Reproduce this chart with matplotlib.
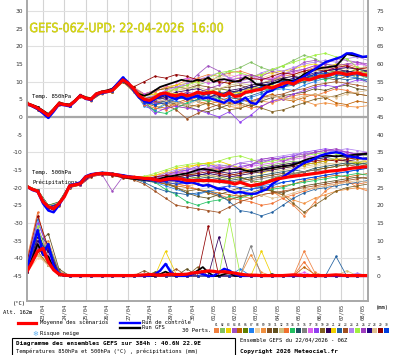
import numpy as np
import matplotlib
matplotlib.use("Agg")
import matplotlib.pyplot as plt
from matplotlib.lines import Line2D
from matplotlib.patches import Rectangle, PathPatch
from matplotlib.textpath import TextPath
from matplotlib.font_manager import FontProperties
from matplotlib.transforms import Affine2D

W, H = 395, 355

# ---- data (hours from 22/04 06Z) ----
hours6 = np.arange(0, 385, 6)
hours12 = np.arange(0, 385, 12)
day_labels = ["23/04", "24/04", "25/04", "26/04", "27/04", "28/04", "29/04", "30/04",
              "01/05", "02/05", "03/05", "04/05", "05/05", "06/05", "07/05", "08/05"]
day_hours = [18 + 24 * k for k in range(len(day_labels))]

mean850 = [3.8, 3.2, 2.5, 1.5, 0.4, 2.0, 3.8, 3.5, 3.3, 4.5,
           6.0, 5.3, 5.0, 6.5, 7.0, 7.2, 7.5, 9.0, 10.5, 9.5,
           8.0, 6.0, 5.0, 4.7, 5.5, 6.5, 6.8, 6.2, 6.0, 6.5,
           6.0, 6.3, 7.0, 6.6, 6.8, 7.0, 6.5, 6.0, 6.8, 5.8,
           6.0, 7.0, 7.2, 7.6, 7.8, 8.5, 8.2, 8.8, 9.5, 9.8,
           9.3, 10.2, 10.8, 10.5, 11.0, 11.5, 11.6, 12.0, 12.5, 12.4,
           12.0, 12.3, 12.5, 12.0, 11.8]
ctrl850 = [3.6, 3.0, 2.2, 1.0, -0.3, 1.5, 3.5, 3.3, 3.0, 4.3,
           6.2, 5.1, 4.8, 6.4, 6.8, 7.0, 7.8, 9.5, 11.2, 9.8,
           7.5, 5.5, 4.5, 4.0, 5.0, 6.0, 6.5, 5.5, 5.0, 5.8,
           5.0, 5.5, 6.0, 5.2, 5.5, 5.0, 4.5, 4.0, 5.0, 4.0,
           4.5, 5.5, 4.0, 3.7, 5.5, 7.0, 7.5, 8.5, 8.5, 9.5,
           10.0, 10.5, 11.5, 12.5, 13.5, 14.5, 15.5, 16.0, 16.5, 17.0,
           18.0, 18.0, 17.5, 17.0, 17.2]
gfs850 = [3.9, 3.4, 2.8, 1.8, 0.8, 2.2, 4.0, 3.7, 3.5, 4.7,
          6.2, 5.5, 5.2, 6.7, 7.2, 7.5, 8.0, 9.3, 10.3, 9.2,
          7.8, 6.5, 6.0, 6.5, 7.5, 8.5, 9.0, 9.5, 10.0, 10.5,
          10.2, 10.0, 10.5, 10.2, 11.2, 9.9, 10.5, 10.7, 10.3, 10.0,
          10.2, 11.3, 10.5, 9.3, 9.0, 8.7, 9.5, 9.9, 10.7, 10.5,
          10.2, 11.0, 12.1, 12.8, 13.5, 13.8, 14.0, 14.2, 14.4, 16.0,
          17.8, 17.5, 17.2, 17.0, 17.0]

mean500 = [-19.7, -20.5, -21.0, -24.0, -25.4, -26.0, -24.5, -22.6, -19.5, -19.2,
           -18.9, -17.0, -16.5, -16.1, -16.0, -16.0, -16.2, -16.4, -16.8, -17.0,
           -17.1, -17.2, -17.4, -17.5, -17.8, -18.0, -17.7, -17.5, -17.5, -17.6,
           -18.0, -18.0, -18.0, -18.0, -18.0, -18.1, -18.2, -18.3, -18.5, -19.0,
           -18.5, -19.0, -19.5, -19.2, -19.0, -18.5, -18.0, -17.5, -17.3, -17.0,
           -16.8, -16.6, -16.4, -16.2, -16.0, -15.8, -15.5, -15.3, -15.2, -15.0,
           -14.8, -14.5, -14.4, -14.2, -14.1]
ctrl500 = [-19.8, -20.7, -21.2, -24.5, -26.5, -27.0, -25.0, -22.5, -19.3, -19.0,
           -18.5, -16.8, -16.2, -16.0, -15.8, -15.9, -16.1, -16.3, -16.5, -16.8,
           -17.0, -17.3, -17.6, -17.8, -18.0, -18.3, -18.0, -17.8, -18.0, -18.4,
           -18.8, -18.5, -19.0, -19.5, -19.2, -19.8, -20.5, -20.2, -21.0, -21.5,
           -21.2, -21.6, -21.8, -21.7, -21.0, -20.5, -19.0, -18.0, -17.0, -16.0,
           -15.0, -14.0, -13.0, -12.5, -11.8, -11.0, -10.5, -10.2, -10.0, -10.3,
           -11.0, -11.3, -11.5, -11.8, -11.8]
gfs500 = [-19.6, -20.6, -21.0, -23.8, -25.5, -26.3, -24.5, -22.4, -19.4, -19.0,
          -18.6, -16.9, -16.3, -16.0, -16.0, -16.1, -16.3, -16.6, -17.0, -17.3,
          -17.5, -17.7, -17.8, -18.0, -17.9, -17.5, -17.0, -16.8, -16.5, -16.2,
          -16.0, -15.5, -15.0, -14.7, -14.9, -15.2, -15.5, -15.0, -14.7, -14.8,
          -14.7, -15.2, -15.5, -15.3, -15.0, -14.7, -14.5, -14.2, -14.0, -13.8,
          -13.5, -13.0, -12.3, -11.8, -11.5, -11.2, -11.0, -11.0, -11.2, -11.0,
          -11.0, -10.8, -10.6, -10.5, -10.4]

mean_pr = [1.2, 4.0, 7.0, 7.8, 4.0, 1.7, 0.5, 0.2, 0.1, 0.1,
           0.1, 0.1, 0.1, 0.1, 0.1, 0.1, 0.1, 0.1, 0.1, 0.1,
           0.1, 0.2, 0.3, 0.4, 0.3, 0.2, 0.3, 0.5, 0.4, 0.4,
           0.5, 0.8, 1.0, 1.2, 1.4, 1.3, 1.1, 1.2, 1.0, 0.8,
           0.5, 0.3, 0.2, 0.2, 0.1, 0.1, 0.1, 0.1, 0.1, 0.2,
           0.3, 0.2, 0.1, 0.1, 0.1, 0.1, 0.1, 0.2, 0.3, 0.2,
           0.1, 0.1, 0.1, 0.1, 0.1]
ctrl_pr = [2.0, 8.0, 13.0, 6.0, 9.0, 3.0, 0.5, 0.1, 0, 0,
           0, 0, 0, 0, 0, 0, 0, 0, 0, 0,
           0, 0, 0, 0, 0.5, 1.5, 3.4, 1.0, 0, 0,
           0, 0.5, 1.0, 0.5, 0, 0, 1.0, 2.0, 1.5, 0.5,
           0, 0, 0, 0, 0, 0, 0, 0, 0, 0,
           0, 0, 0, 0, 0, 0, 0, 0, 0, 0,
           0, 0, 0, 0, 0]
gfs_pr = [1.5, 5.0, 9.0, 6.0, 5.5, 2.0, 0.3, 0, 0, 0,
          0, 0, 0, 0, 0, 0, 0, 0, 0, 0,
          0, 0, 0, 0, 0, 0.5, 1.2, 0.5, 0, 0,
          0, 0.5, 1.5, 2.5, 1.0, 0, 0, 0.5, 0.8, 0,
          0, 0, 0, 0, 0, 0, 0.5, 0, 0, 0,
          0, 0, 0, 0, 0, 0, 0, 0, 0, 0,
          0, 0, 0, 0, 0]

# 30 perturbations, every 12 h
pert_colors = ["#f08040", "#80c060", "#f0d000", "#a050c0", "#c06000", "#608000",
               "#2080f0", "#f0d0a0", "#f09040", "#805020", "#605020", "#d0c080",
               "#f07030", "#20c060", "#205060", "#808080", "#e060f0", "#9040f0",
               "#806020", "#300060", "#f0d000", "#2060a0", "#a05020", "#b080f0",
               "#a0f040", "#a040c0", "#200080", "#e0c090", "#900000", "#0040e0"]

pert850 = [
    [4.0, 2.8, 0.8, 4.2, 3.5, 6.3, 5.2, 7.4, 7.8, 10.8, 8.5, 6.0, 7.0, 8.5, 9.0, 10.5, 11.0, 12.0, 11.5, 12.5, 13.0, 12.0, 11.0, 10.5, 11.5, 12.0, 13.0, 14.0, 13.5, 14.5, 15.0, 14.0, 13.5],
    [3.6, 2.2, 0.2, 3.5, 3.0, 5.8, 4.8, 6.8, 7.2, 10.2, 7.0, 3.5, 2.0, 4.0, 5.5, 7.0, 9.0, 10.0, 11.5, 13.0, 14.0, 15.5, 14.0, 13.0, 14.5, 16.0, 17.5, 16.5, 15.0, 14.0, 12.5, 11.0, 10.5],
    [3.9, 2.6, 0.6, 3.9, 3.4, 6.1, 5.1, 7.1, 7.6, 10.4, 8.2, 6.5, 7.5, 8.0, 9.0, 9.5, 10.0, 11.0, 10.0, 9.5, 10.5, 11.5, 12.0, 12.5, 13.0, 13.5, 14.5, 15.0, 14.0, 15.0, 14.5, 13.0, 12.5],
    [3.7, 2.4, 0.3, 3.6, 3.2, 5.9, 4.9, 6.9, 7.3, 10.3, 7.5, 4.5, 5.0, 6.0, 8.5, 9.0, 12.0, 14.5, 13.0, 11.0, 9.5, 10.0, 11.5, 13.0, 12.0, 13.5, 15.5, 16.0, 15.0, 16.5, 16.0, 15.5, 14.5],
    [3.5, 2.0, 0.5, 3.4, 3.6, 6.2, 5.4, 7.2, 7.0, 10.0, 7.8, 4.0, 3.0, 2.5, 4.0, 5.0, 4.5, 3.5, 4.5, 5.5, 5.0, 4.0, 5.5, 6.5, 5.0, 4.5, 5.5, 6.5, 5.5, 4.0, 3.5, 4.5, 4.0],
    [4.1, 2.7, 0.9, 4.0, 3.1, 5.7, 4.7, 6.7, 7.9, 10.6, 8.3, 5.5, 5.0, 6.5, 6.0, 5.5, 6.5, 7.0, 8.0, 7.5, 6.5, 7.5, 8.0, 8.5, 9.0, 10.0, 11.0, 11.5, 12.5, 13.0, 12.5, 13.5, 13.0],
    [3.8, 2.3, 0.1, 3.7, 3.3, 6.0, 5.0, 7.1, 7.7, 11.2, 8.0, 3.0, 2.0, 3.5, 4.5, 3.5, 5.0, 6.0, 5.5, 4.5, 4.0, 5.5, 6.5, 7.5, 8.0, 7.5, 9.0, 10.0, 11.0, 12.0, 11.5, 11.0, 10.5],
    [3.9, 2.5, 0.4, 3.8, 3.5, 6.4, 5.3, 7.3, 7.5, 10.5, 8.7, 6.5, 6.0, 7.5, 8.0, 8.5, 9.5, 10.5, 11.0, 12.0, 11.0, 10.5, 11.0, 12.0, 12.5, 13.0, 12.5, 13.5, 14.0, 14.5, 13.5, 14.0, 13.0],
    [3.7, 2.4, 0.6, 3.9, 3.2, 5.8, 4.6, 6.6, 7.0, 9.8, 7.2, 4.5, 3.5, 4.0, 3.0, 2.5, 3.5, 4.5, 4.0, 3.0, 2.5, 3.5, 4.5, 4.0, 5.0, 5.5, 4.5, 3.5, 4.0, 3.5, 3.0, 2.8, 3.2],
    [3.6, 2.1, 0.2, 3.6, 3.0, 6.0, 5.2, 7.0, 7.6, 10.1, 8.2, 6.5, 7.5, 8.0, 8.5, 8.0, 9.0, 8.5, 8.0, 8.5, 9.0, 8.0, 9.5, 10.5, 11.0, 10.0, 11.5, 12.0, 11.0, 10.5, 11.5, 12.0, 11.5],
    [4.0, 2.9, 0.7, 4.1, 3.4, 6.1, 5.1, 6.9, 7.3, 10.2, 7.6, 5.0, 4.0, 4.5, 3.5, 3.0, 2.0, 1.5, 2.5, 3.5, 4.0, 3.0, 4.5, 5.5, 6.0, 6.5, 7.0, 8.0, 7.5, 8.5, 9.0, 8.0, 7.5],
    [3.8, 2.6, 0.5, 3.8, 3.3, 6.1, 5.0, 7.0, 7.5, 10.6, 8.1, 6.0, 6.5, 7.0, 7.5, 8.0, 8.5, 7.5, 8.0, 9.0, 9.5, 9.0, 9.5, 10.5, 11.0, 11.5, 12.5, 13.0, 13.5, 13.0, 14.0, 13.5, 14.5],
    [3.7, 2.3, 0.3, 3.5, 3.1, 5.9, 4.8, 6.8, 7.2, 10.3, 7.4, 3.5, 2.5, 2.0, 3.5, 4.5, 5.5, 6.5, 5.5, 4.0, 3.5, 2.5, 3.0, 4.5, 5.5, 6.0, 6.5, 6.0, 7.0, 8.0, 7.5, 6.5, 6.0],
    [3.9, 2.7, 0.6, 3.9, 3.6, 6.2, 5.3, 7.2, 7.8, 10.7, 8.4, 4.5, 1.5, 1.0, 2.5, 4.0, 5.0, 4.5, 5.5, 6.5, 6.0, 7.0, 8.0, 7.5, 8.5, 9.5, 10.0, 11.0, 10.5, 11.5, 12.5, 12.0, 11.0],
    [3.8, 2.5, 0.4, 3.8, 3.3, 6.0, 5.0, 7.0, 7.4, 10.4, 7.8, 5.5, 5.5, 6.0, 5.5, 5.0, 6.0, 6.5, 7.0, 6.5, 7.5, 8.5, 9.0, 9.5, 10.5, 10.0, 11.0, 11.5, 12.0, 12.5, 13.0, 12.5, 12.0],
    [3.7, 2.4, 0.5, 3.7, 3.4, 6.0, 5.1, 7.1, 7.6, 10.5, 8.0, 5.0, 4.5, 5.5, 6.5, 6.0, 5.5, 5.0, 6.0, 7.0, 7.5, 8.0, 8.5, 8.0, 9.5, 10.0, 10.5, 11.5, 12.0, 13.0, 12.5, 12.0, 12.5],
    [3.9, 2.6, 0.4, 3.9, 3.2, 6.0, 4.9, 6.9, 7.4, 10.4, 8.2, 6.5, 7.5, 9.0, 10.0, 11.0, 10.5, 9.5, 10.0, 11.0, 12.0, 11.5, 10.5, 11.0, 12.0, 12.5, 13.5, 14.5, 14.0, 13.5, 14.5, 15.0, 14.5],
    [3.8, 2.5, 0.3, 3.6, 3.3, 5.9, 5.0, 7.0, 7.3, 10.2, 7.6, 4.0, 1.0, 2.5, 3.0, 2.5, 2.0, 1.0, 0.0, 1.5, -1.5, 0.5, 3.0, 4.5, 5.0, 6.5, 7.5, 8.5, 9.0, 8.5, 9.5, 10.5, 10.0],
    [3.6, 2.2, 0.3, 3.6, 3.0, 5.8, 4.7, 6.7, 7.1, 10.0, 7.3, 5.0, 6.0, 5.0, 4.0, 3.5, 3.0, 4.0, 3.0, 2.0, 2.5, 3.5, 2.5, 1.5, 2.0, 3.0, 4.0, 5.0, 5.5, 6.0, 7.0, 6.5, 6.0],
    [4.0, 2.8, 0.6, 4.0, 3.5, 6.2, 5.2, 7.2, 7.7, 10.7, 8.3, 5.5, 5.0, 6.0, 7.0, 7.5, 8.0, 7.0, 6.0, 7.5, 8.0, 9.0, 9.5, 10.0, 11.0, 11.5, 11.0, 12.0, 13.0, 13.5, 13.0, 12.5, 13.0],
    [3.8, 2.5, 0.5, 3.8, 3.4, 6.1, 5.1, 7.1, 7.5, 10.5, 8.0, 6.0, 6.5, 7.0, 6.5, 6.0, 7.0, 7.5, 7.0, 6.5, 7.0, 8.0, 8.5, 9.0, 9.0, 9.5, 10.5, 11.0, 11.5, 12.0, 11.5, 12.0, 12.5],
    [3.7, 2.4, 0.4, 3.7, 3.2, 5.9, 4.9, 6.9, 7.4, 10.3, 7.7, 4.5, 3.5, 4.5, 5.5, 5.0, 4.5, 5.5, 6.5, 5.5, 5.0, 6.0, 7.0, 8.0, 8.5, 9.0, 10.0, 10.5, 11.5, 11.0, 10.5, 11.0, 10.0],
    [3.9, 2.6, 0.5, 3.9, 3.4, 6.0, 5.0, 7.0, 7.5, 10.4, 7.9, 5.0, 4.5, 3.5, 2.0, -0.5, 1.0, 2.5, 3.5, 4.0, 5.0, 4.5, 5.5, 6.0, 6.5, 7.5, 8.0, 9.0, 9.5, 10.0, 9.5, 9.0, 8.5],
    [3.8, 2.5, 0.4, 3.8, 3.3, 6.0, 5.0, 7.0, 7.5, 10.5, 8.2, 5.5, 6.0, 7.5, 8.5, 9.5, 10.5, 11.5, 12.5, 11.0, 10.0, 11.0, 12.5, 13.5, 13.0, 14.0, 15.0, 15.5, 16.0, 15.5, 16.5, 17.0, 16.0],
    [3.9, 2.6, 0.5, 3.9, 3.4, 6.1, 5.1, 7.1, 7.6, 10.6, 8.1, 5.0, 5.5, 7.0, 8.0, 9.0, 10.0, 11.0, 12.5, 13.0, 12.5, 11.5, 12.0, 13.5, 14.5, 15.5, 16.5, 17.5, 18.0, 17.0, 16.5, 14.0, 12.0],
    [3.7, 2.4, 0.3, 3.7, 3.2, 5.9, 4.9, 6.9, 7.4, 10.3, 7.5, 4.5, 4.0, 5.0, 6.0, 7.0, 6.5, 8.0, 9.0, 10.5, 11.0, 12.0, 11.0, 10.5, 12.0, 13.0, 13.5, 14.5, 15.0, 14.5, 15.0, 15.5, 15.0],
    [3.8, 2.5, 0.4, 3.8, 3.3, 6.0, 5.0, 7.0, 7.5, 10.4, 7.8, 5.0, 5.0, 5.5, 6.0, 6.5, 6.0, 5.5, 6.5, 7.0, 7.5, 8.5, 9.0, 9.5, 10.0, 11.0, 11.5, 12.5, 13.0, 13.5, 14.0, 13.5, 13.0],
    [3.9, 2.6, 0.6, 3.9, 3.5, 6.1, 5.2, 7.2, 7.6, 10.6, 8.1, 5.5, 5.0, 4.5, 4.0, 3.5, 4.5, 5.5, 4.5, 3.5, 3.0, 4.0, 5.0, 6.0, 5.5, 5.0, 6.0, 6.5, 6.0, 5.5, 6.5, 7.0, 7.5],
    [3.8, 2.5, 0.5, 3.8, 3.4, 6.0, 5.1, 7.1, 7.5, 10.5, 8.5, 10.0, 11.5, 11.0, 12.0, 11.5, 10.5, 11.0, 10.0, 9.5, 10.5, 11.0, 10.5, 11.5, 12.5, 12.0, 13.0, 13.5, 13.0, 14.0, 14.5, 13.5, 14.0],
    [3.7, 2.4, 0.3, 3.7, 3.2, 5.9, 4.9, 6.9, 7.3, 10.3, 7.6, 4.0, 3.5, 4.0, 5.0, 6.0, 5.5, 6.5, 7.0, 6.0, 6.5, 7.5, 8.5, 9.5, 10.0, 10.5, 11.0, 12.0, 12.5, 12.0, 11.5, 12.0, 11.5],
]

pert500 = [
    [-19.5, -20.8, -25.0, -24.0, -19.2, -18.5, -16.2, -15.8, -16.0, -16.5, -16.8, -17.0, -16.5, -16.0, -15.5, -16.0, -15.0, -14.5, -15.0, -16.0, -17.0, -18.0, -19.5, -21.0, -23.0, -25.0, -28.0, -24.0, -21.0, -19.0, -18.0, -20.0, -21.0],
    [-19.8, -21.2, -25.8, -24.8, -19.8, -19.0, -16.6, -16.2, -16.4, -17.0, -17.5, -18.0, -18.5, -18.0, -17.0, -16.5, -15.5, -15.0, -14.0, -13.5, -14.5, -15.0, -14.0, -13.5, -13.0, -12.5, -13.0, -12.0, -11.5, -12.0, -12.5, -13.0, -12.0],
    [-19.6, -20.9, -25.3, -24.3, -19.4, -18.8, -16.4, -15.9, -16.1, -16.6, -16.9, -17.2, -17.5, -16.5, -15.5, -14.5, -13.5, -13.0, -14.0, -15.0, -14.5, -15.5, -16.0, -15.0, -14.5, -14.0, -13.5, -13.0, -12.5, -12.0, -12.5, -13.0, -12.5],
    [-19.7, -21.0, -25.5, -24.6, -19.6, -19.1, -16.7, -16.1, -21.0, -16.9, -17.3, -17.6, -17.0, -16.5, -16.0, -15.0, -14.5, -15.5, -16.0, -14.0, -13.0, -13.5, -12.5, -12.0, -11.5, -11.0, -10.5, -10.0, -9.5, -9.5, -10.0, -10.5, -11.0],
    [-19.9, -21.3, -26.0, -25.0, -20.0, -19.3, -16.9, -16.4, -16.6, -17.2, -17.5, -18.0, -18.5, -19.0, -19.5, -20.0, -20.5, -21.0, -21.5, -22.0, -22.5, -22.0, -21.0, -20.0, -19.5, -19.0, -18.0, -17.5, -17.0, -16.5, -17.0, -16.5, -16.0],
    [-19.5, -20.7, -25.0, -24.2, -19.3, -18.7, -16.3, -15.8, -16.0, -16.6, -17.0, -17.3, -17.8, -17.5, -17.0, -17.5, -17.0, -16.5, -17.0, -17.5, -17.0, -18.0, -18.5, -17.5, -16.5, -16.0, -15.5, -15.0, -14.5, -14.0, -13.5, -13.0, -13.5],
    [-19.8, -21.1, -25.6, -24.7, -19.7, -19.0, -16.6, -16.1, -16.3, -16.9, -17.3, -18.0, -18.5, -19.5, -20.5, -21.5, -22.0, -21.0, -20.5, -21.0, -21.5, -20.5, -19.5, -19.0, -18.5, -18.0, -17.5, -17.0, -16.5, -16.0, -15.5, -15.0, -14.5],
    [-19.6, -20.9, -25.2, -24.3, -19.4, -18.8, -16.4, -16.0, -16.2, -16.7, -17.0, -17.3, -17.5, -17.0, -16.5, -16.0, -16.5, -17.0, -16.0, -15.5, -16.0, -16.5, -17.0, -16.5, -16.0, -15.0, -14.5, -14.0, -13.5, -13.0, -12.5, -12.0, -12.5],
    [-19.7, -21.0, -25.4, -24.5, -19.5, -18.9, -16.5, -16.0, -16.2, -16.8, -17.1, -17.5, -18.0, -18.5, -19.0, -19.5, -19.0, -19.5, -20.5, -21.0, -22.5, -23.0, -22.0, -21.5, -22.0, -23.5, -24.5, -23.0, -22.0, -21.0, -20.5, -20.0, -20.5],
    [-19.8, -21.1, -25.7, -24.8, -19.8, -19.1, -16.7, -16.2, -16.4, -17.0, -17.3, -17.6, -17.5, -17.8, -18.0, -18.5, -18.0, -17.5, -18.0, -18.5, -18.0, -17.5, -17.0, -16.5, -16.0, -16.5, -15.5, -15.0, -14.5, -14.0, -13.5, -14.0, -13.5],
    [-19.6, -20.8, -25.1, -24.2, -19.3, -18.7, -16.3, -15.9, -16.1, -16.6, -16.9, -17.2, -17.5, -18.5, -20.0, -21.5, -22.5, -23.0, -22.0, -21.0, -20.0, -19.5, -20.0, -21.0, -21.5, -20.5, -19.5, -19.0, -18.5, -18.0, -17.5, -17.0, -17.5],
    [-19.7, -21.0, -25.4, -24.4, -19.5, -18.9, -16.5, -16.0, -16.2, -16.8, -17.2, -17.5, -17.8, -17.5, -17.0, -16.5, -16.0, -16.5, -17.0, -16.5, -16.0, -15.5, -15.0, -15.5, -15.0, -14.5, -14.0, -13.5, -13.0, -13.5, -13.0, -12.5, -13.0],
    [-19.9, -21.2, -25.9, -24.9, -19.9, -19.2, -16.8, -16.3, -16.5, -17.1, -17.4, -17.8, -18.0, -18.5, -19.0, -19.5, -20.5, -21.5, -22.0, -23.0, -23.5, -24.0, -25.0, -24.5, -23.0, -22.0, -21.0, -20.0, -19.5, -19.0, -18.5, -19.0, -18.5],
    [-19.5, -20.7, -25.0, -24.1, -19.2, -18.6, -16.2, -15.7, -16.0, -16.5, -16.9, -17.5, -18.5, -20.5, -22.0, -24.0, -25.0, -24.0, -23.5, -22.5, -23.0, -22.0, -21.0, -20.5, -20.0, -19.0, -18.5, -18.0, -17.5, -17.0, -16.5, -16.0, -16.5],
    [-19.7, -21.0, -25.4, -24.5, -19.5, -18.9, -16.5, -16.0, -16.2, -16.8, -17.1, -17.4, -17.8, -17.6, -17.4, -17.8, -17.5, -17.0, -17.5, -18.0, -17.5, -17.0, -16.5, -16.0, -15.5, -15.0, -15.5, -14.5, -14.0, -13.5, -13.0, -13.5, -13.0],
    [-19.6, -20.9, -25.3, -24.4, -19.4, -18.8, -16.4, -15.9, -16.1, -16.7, -17.0, -17.3, -17.7, -18.0, -18.5, -18.0, -17.5, -18.0, -18.5, -19.0, -18.5, -18.0, -17.5, -17.0, -16.5, -16.0, -15.5, -15.0, -15.5, -15.0, -14.5, -14.0, -14.5],
    [-19.8, -21.1, -25.6, -24.6, -19.6, -19.0, -16.6, -16.1, -16.3, -16.9, -17.2, -17.3, -17.0, -16.5, -16.0, -15.5, -15.0, -14.5, -14.0, -14.5, -15.0, -14.0, -13.5, -13.0, -12.5, -12.0, -11.5, -11.0, -10.5, -10.0, -10.5, -11.0, -10.5],
    [-19.7, -21.0, -25.5, -24.5, -19.5, -18.9, -16.5, -16.0, -16.3, -16.9, -17.2, -17.6, -17.5, -16.5, -15.5, -15.0, -14.0, -13.5, -14.5, -15.0, -14.0, -13.5, -13.0, -12.0, -11.5, -11.0, -10.0, -9.5, -9.0, -9.5, -10.0, -10.5, -10.0],
    [-19.6, -20.8, -25.2, -24.3, -19.3, -18.7, -16.3, -15.8, -16.0, -16.6, -17.0, -17.4, -18.0, -19.0, -20.0, -21.0, -20.5, -21.5, -22.5, -23.5, -22.5, -21.5, -20.5, -21.0, -22.0, -24.5, -27.0, -25.0, -23.0, -21.0, -20.0, -19.5, -19.0],
    [-19.8, -21.1, -25.7, -24.7, -19.7, -19.1, -16.7, -16.2, -16.4, -17.0, -17.3, -17.7, -18.0, -17.5, -17.0, -16.5, -16.5, -16.0, -16.5, -17.0, -16.5, -16.0, -15.5, -15.0, -14.5, -14.0, -13.5, -13.0, -12.5, -12.0, -12.5, -12.0, -11.5],
    [-19.7, -20.9, -25.3, -24.4, -19.4, -18.8, -16.4, -15.9, -16.1, -16.7, -17.0, -17.0, -16.5, -15.5, -14.5, -14.0, -13.5, -13.0, -12.5, -13.5, -14.5, -15.0, -14.5, -14.0, -13.5, -13.0, -13.5, -13.0, -12.5, -12.0, -11.5, -12.0, -11.5],
    [-19.6, -20.8, -25.2, -24.2, -19.3, -18.7, -16.3, -15.9, -16.2, -16.8, -17.5, -18.5, -20.0, -21.0, -21.5, -22.0, -21.5, -21.0, -22.0, -24.0, -26.5, -27.0, -28.0, -27.0, -25.0, -23.0, -21.5, -20.5, -20.0, -19.5, -19.0, -18.5, -18.0],
    [-19.9, -21.3, -26.0, -25.1, -20.0, -19.3, -16.9, -16.4, -16.6, -17.2, -17.8, -19.0, -21.0, -23.0, -25.0, -25.5, -26.0, -26.5, -27.0, -25.5, -24.0, -23.0, -22.0, -21.5, -21.0, -20.5, -20.0, -19.5, -19.0, -18.5, -18.0, -17.5, -17.0],
    [-19.7, -21.0, -25.4, -24.5, -19.5, -18.9, -16.5, -16.0, -16.2, -16.8, -17.1, -17.3, -17.0, -16.0, -15.0, -14.5, -15.0, -14.0, -13.5, -14.0, -13.0, -12.5, -12.0, -11.5, -11.0, -10.5, -10.0, -10.5, -10.0, -9.5, -9.0, -9.5, -10.0],
    [-19.6, -20.9, -25.3, -24.4, -19.4, -18.8, -16.4, -15.9, -16.1, -16.7, -17.0, -16.8, -16.0, -15.0, -14.0, -13.5, -13.0, -13.5, -12.5, -11.5, -11.0, -12.0, -13.0, -12.5, -12.0, -11.5, -11.0, -10.5, -10.0, -10.5, -11.0, -10.5, -11.0],
    [-19.8, -21.2, -25.8, -24.8, -19.8, -19.2, -16.8, -16.3, -16.5, -17.1, -17.4, -17.7, -17.5, -17.0, -16.5, -16.0, -15.5, -15.0, -14.5, -14.0, -14.5, -13.5, -12.0, -11.5, -12.5, -11.5, -11.0, -10.0, -9.5, -9.0, -10.0, -10.5, -10.0],
    [-19.7, -21.0, -25.4, -24.5, -19.5, -18.9, -16.5, -16.0, -16.2, -16.8, -17.1, -17.5, -17.8, -18.0, -17.5, -17.0, -16.5, -16.0, -15.5, -16.0, -15.5, -15.0, -14.5, -14.0, -13.5, -13.0, -12.5, -12.0, -11.5, -11.0, -11.5, -11.0, -10.5],
    [-19.6, -20.9, -25.2, -24.3, -19.4, -18.8, -16.4, -15.9, -16.1, -16.6, -17.0, -17.4, -17.8, -18.5, -19.0, -18.5, -18.0, -19.0, -20.0, -21.0, -20.5, -21.5, -22.0, -23.0, -22.5, -21.5, -20.5, -20.0, -19.5, -19.0, -18.5, -18.0, -18.5],
    [-19.8, -21.1, -25.6, -24.6, -19.6, -19.0, -16.6, -16.1, -16.3, -16.9, -17.2, -17.5, -17.0, -16.5, -17.0, -16.5, -16.0, -15.5, -16.0, -16.5, -16.0, -15.5, -15.0, -14.5, -14.0, -13.5, -13.0, -12.5, -12.0, -12.5, -12.0, -11.5, -12.0],
    [-19.7, -21.0, -25.5, -24.5, -19.5, -18.9, -16.5, -16.0, -16.2, -16.8, -17.2, -17.6, -18.0, -18.5, -19.0, -18.5, -19.0, -19.5, -20.0, -19.5, -20.0, -20.5, -20.0, -19.5, -18.5, -18.0, -17.5, -17.0, -16.5, -16.0, -15.5, -15.0, -14.5],
]

pert_pr = [
    [2, 6, 3, 0.5, 0, 0, 0, 0, 0, 0, 0, 0, 0, 0, 0, 0, 0, 0, 0, 0, 0, 0, 0, 0, 0, 0, 7, 1, 0, 0, 0, 0, 0],
    [1, 9, 4, 0.3, 0, 0, 0, 0, 0, 0, 0, 0, 0, 0, 0, 0, 0, 0, 0, 0, 0, 0.5, 0, 0, 0, 0, 0, 0, 0, 0, 0, 0, 0],
    [3, 11, 5, 1, 0, 0, 0, 0, 0, 0, 0, 0, 0, 7, 0.5, 0, 0, 0, 0, 0, 0, 0, 0, 0, 0, 0, 0, 0, 0, 0, 0, 0, 0],
    [2, 14, 6, 0.5, 0, 0, 0, 0, 0, 0, 0, 0, 0, 0, 0, 0, 1.5, 0, 0, 0, 0, 0, 0, 0, 0, 0, 0, 0, 0, 0, 0, 0, 0],
    [1, 7, 8, 1, 0, 0, 0, 0, 0, 0, 0, 0, 0, 0, 0, 0, 0, 0, 0, 0, 0, 0, 0, 0, 0, 0, 2.5, 0.5, 0, 0, 0, 0, 0],
    [4, 10, 3, 0.2, 0, 0, 0, 0, 0, 0, 0, 0, 1, 0, 0, 0, 0, 0, 0, 0, 0, 0, 0, 0, 0, 0, 0, 0, 0, 0, 0, 0, 0],
    [2, 16, 7, 0.5, 0, 0, 0, 0, 0, 0, 0, 0, 0, 3.5, 0, 0, 0, 0, 0, 0, 2, 0, 0, 0, 0, 0, 0, 0, 0, 0, 0, 0, 0],
    [1, 5, 4, 0.5, 0, 0, 0, 0, 0, 0, 0, 0, 0, 0, 0, 0, 0, 0, 0, 1, 0, 0, 0, 0, 0, 0, 0, 0, 0, 0, 0, 0, 0],
    [3, 8, 10, 1.5, 0, 0, 0, 0, 0, 0, 0, 0, 0, 0, 0, 0, 0, 0, 0, 0, 0, 6, 1, 0, 0, 0, 0, 0, 0, 0, 0, 0, 0],
    [2, 12, 5, 0.5, 0, 0, 0, 0, 0, 0, 0, 1.5, 0, 0, 0, 0, 0, 0, 0, 0, 0, 0, 0, 0, 0, 0, 0, 0, 0, 0, 0, 0, 0],
    [1, 9, 12, 2, 0, 0, 0, 0, 0, 0, 0, 0, 0, 0, 0, 2, 0, 0, 0, 0, 0, 0, 0, 0, 0, 0, 0, 0, 0, 0, 0, 0, 0],
    [2, 6, 3, 0.3, 0, 0, 0, 0, 0, 0, 0, 0, 0, 0, 0, 0, 0, 0, 0, 0, 0, 0, 0, 0, 0, 0, 0, 0, 0, 0, 1.5, 0, 0],
    [5, 18, 6, 0.5, 0, 0, 0, 0, 0, 0, 0, 0, 0, 0, 0, 0, 0, 0, 0, 0, 0, 0, 0, 0, 0, 0, 4, 0, 0, 0, 0, 0, 0],
    [2, 7, 9, 1, 0, 0, 0, 0, 0, 0, 0, 0, 0, 0, 0, 0, 0, 0, 0, 0, 0, 0, 0, 0, 0, 0, 0, 0, 0, 0, 0, 0, 0],
    [3, 13, 4, 0.3, 0, 0, 0, 0, 0, 0, 0, 0, 0, 0, 0, 0, 0, 0, 0, 0, 0, 0, 0, 0, 0, 0, 0, 0, 0, 0, 0, 0, 0],
    [1, 8, 5, 0.5, 0, 0, 0, 0, 0, 0, 0, 0, 0, 0, 0, 0, 0, 0, 0, 0, 0, 8.5, 0, 0, 0, 0, 0, 0, 0, 0, 0, 0, 0],
    [2, 10, 6, 0.5, 0, 0, 0, 0, 0, 0, 0, 0, 0, 0, 0, 0, 0, 0, 0, 0, 0, 0, 0, 0, 0, 0, 1, 0, 0, 0, 0, 0, 0],
    [4, 15, 8, 1, 0, 0, 0, 0, 0, 0, 0, 0, 0, 0, 0, 0, 0, 0, 0, 0, 0, 0, 0, 0, 0, 0, 0, 0, 0, 0, 0, 0, 0],
    [2, 9, 5, 0.5, 0, 0, 0, 0, 0, 0, 0, 0, 1, 0, 0, 0, 2.5, 0, 0, 0, 0, 0, 0, 0, 0, 0, 0, 0, 0, 0, 0, 0, 0],
    [1, 11, 7, 0.5, 0, 0, 0, 0, 0, 0, 0, 0, 0, 0, 0, 0, 0, 0, 11, 0, 0, 0, 0, 0, 0, 0, 0, 0, 0, 0, 0, 0, 0],
    [3, 6, 4, 0.3, 0, 0, 0, 0, 0, 0, 0, 0, 0, 0, 0, 0, 0, 0, 0, 0, 0, 0, 7, 0, 0, 0, 0, 0, 0, 0, 0, 0, 0],
    [2, 12, 9, 1, 0, 0, 0, 0, 0, 0, 0, 0, 0, 0, 0, 0, 0, 0, 0, 0, 0, 0, 0, 0, 0, 0, 0, 0, 0, 5.5, 0, 0, 0],
    [1, 7, 3, 0.5, 0, 0, 0, 0, 0, 0, 0, 0, 0, 0, 2, 0, 0, 0, 0, 0, 0, 0, 0, 0, 0, 0, 0, 0, 0, 0, 0, 0, 0],
    [2, 9, 6, 0.5, 0, 0, 0, 0, 0, 0, 0, 0, 0, 0, 0, 0, 0, 0, 0, 0, 0, 0, 0, 0, 0, 0, 0, 0, 0, 0, 0, 0.8, 0],
    [3, 14, 5, 0.5, 0, 0, 0, 0, 0, 0, 0, 0, 0, 0, 0, 0, 0, 0, 0, 16, 0.5, 0, 0, 0, 0, 0, 0, 0, 0, 0, 0, 0, 0],
    [2, 8, 4, 0.3, 0, 0, 0, 0, 0, 0, 0, 0, 0, 0, 0, 0, 0, 0, 0, 0, 0, 0, 0, 0, 0, 0, 0, 0, 0, 0, 0, 0, 0],
    [1, 10, 7, 0.5, 0, 0, 0, 0, 0, 0, 0, 0, 0, 0, 0, 0, 0, 0, 0, 0, 0, 0, 0, 0, 0, 0, 0, 0, 0, 0, 0, 0, 0],
    [2, 6, 3, 0.3, 0, 0, 0, 0, 0, 0, 0, 0, 0, 0, 0, 0, 0, 0, 0, 0, 0, 0, 0, 0, 0, 0, 0, 0, 0, 0, 0, 0, 0],
    [4, 17, 8, 0.5, 0, 0, 0, 0, 0, 0, 0, 0, 0, 0, 0, 0, 0, 14, 0, 0, 0, 0, 0, 0, 0, 0, 0, 0, 0, 0, 0, 0, 0],
    [2, 12, 5, 0.5, 0, 0, 0, 0, 0, 0, 0, 0, 0, 0, 0, 0, 0, 0, 0, 0, 0, 0, 0, 0, 0, 0, 0, 0, 0, 0, 0, 0, 0],
]

PR_BASE = -45  # precipitation 0 mm sits on -45 of the temperature scale

# ---- figure ----
fig = plt.figure(figsize=(W / 100, H / 100), dpi=100)
ax = fig.add_axes([27 / W, 1 - 301 / H, 341 / W, 301 / H])
ax.set_xlim(0, 384)
ax.set_ylim(-52.1, 33.1)

for h in day_hours:
    ax.axvline(h, color="#d4d4d4", lw=0.8, zorder=0)
for v in range(30, -50, -10):
    ax.axhline(v, color="#e0e0e0", lw=0.8, zorder=0)
ax.axhline(0, color="#a8a8a8", lw=1.6, zorder=0.5)

ms = dict(marker=".", markersize=1.6)
for i in range(30):
    c = pert_colors[i]
    x = hours12[:len(pert850[i])]
    ax.plot(x, pert850[i], color=c, lw=0.55, **ms)
    x = hours12[:len(pert500[i])]
    ax.plot(x, pert500[i], color=c, lw=0.55, **ms)
    x = hours12[:len(pert_pr[i])]
    ax.plot(x, np.array(pert_pr[i]) + PR_BASE, color=c, lw=0.55, **ms)

for series, col, lw in [((gfs850, gfs500, gfs_pr), "black", 1.3),
                        ((ctrl850, ctrl500, ctrl_pr), "#0000ff", 1.7),
                        ((mean850, mean500, mean_pr), "#ff0000", 2.3)]:
    t850, t500, pr = series
    ax.plot(hours6[:len(t850)], t850, color=col, lw=lw, zorder=5)
    ax.plot(hours6[:len(t500)], t500, color=col, lw=lw, zorder=5)
    ax.plot(hours6[:len(pr)], np.array(pr) + PR_BASE, color=col, lw=lw, zorder=5)

left_ticks = list(range(30, -50, -5))
ax.set_yticks(left_ticks)
ax.set_yticklabels([str(v) for v in left_ticks])
ax.set_xticks(day_hours)
ax.set_xticklabels(day_labels, rotation=90)
ax.tick_params(axis="both", length=0, labelsize=4.3, colors="#333333", pad=3)
ax.tick_params(axis="x", pad=2)
for lab in ax.get_xticklabels():
    lab.set_family("DejaVu Sans Mono")
    lab.set_fontsize(4.0)

ax2 = ax.twinx()
ax2.set_ylim(-52.1 + 45, 33.1 + 45)
ax2.set_yticks([v + 45 for v in left_ticks])
ax2.set_yticklabels([str(v + 45) for v in left_ticks])
ax2.tick_params(axis="y", length=0, labelsize=4.3, colors="#333333", pad=6)

for a in (ax, ax2):
    for s in ("top",):
        a.spines[s].set_visible(False)
    for s in ("left", "right", "bottom"):
        a.spines[s].set_color("#a8a8a8")
        a.spines[s].set_linewidth(1.2)

ax.text(6, 5, "Temp. 850hPa", fontsize=4.0, family="DejaVu Sans Mono", va="bottom")
ax.text(6, -16.3, "Temp. 500hPa", fontsize=4.0, family="DejaVu Sans Mono", va="bottom")
ax.text(6, -19.2, "Précipitations", fontsize=4.0, family="DejaVu Sans Mono", va="bottom")


def ftext(px, py, s, **kw):
    fig.text(px / W, 1 - py / H, s, **kw)


def fline(x1, x2, py, color, lw):
    fig.add_artist(Line2D([x1 / W, x2 / W], [1 - py / H, 1 - py / H], color=color, lw=lw,
                          transform=fig.transFigure))


mono = dict(family="DejaVu Sans Mono", fontsize=4.0, va="center")

# title, squeezed to the width of the original bitmap font
title = "GEFS-06Z-UPD: 22-04-2026  16:00"
tp = TextPath((0, 0), title, size=10, prop=FontProperties(family="DejaVu Sans"))
bb = tp.get_extents()
tr = (Affine2D().translate(-bb.x0, -bb.y0).scale(193 / bb.width, 9.6 / bb.height)
      .translate(30, H - 32.3).scale(1 / W, 1 / H) + fig.transFigure)
fig.add_artist(PathPatch(tp, transform=tr, facecolor="#f0f000", edgecolor="#a8a800", lw=0.3))

ftext(13, 304, "(°C)", **mono)
ftext(3, 312, "Alt. 162m", **mono)
ftext(376, 308, "(mm)", **mono)

fline(18, 36, 322.5, "#ff0000", 2.3)
ftext(40, 322.5, "Moyenne des scénarios", **mono)
fline(120, 140, 322.5, "#0000ff", 1.7)
ftext(142, 322.5, "Run de contrôle", **mono)
fline(120, 140, 327.5, "black", 1.7)
ftext(142, 327.5, "Run GFS", **mono)
ftext(32, 334, "❄", color="#60b0f0", fontsize=5, va="center", family="DejaVu Sans")
ftext(40, 334, "Risque neige", **mono)
ftext(182, 330, "30 Perts.", **mono)

for i, c in enumerate(pert_colors):
    x0 = 214 + i * 5.87
    fig.add_artist(Rectangle((x0 / W, 1 - 332.5 / H), 5.0 / W, 4.5 / H, facecolor=c,
                             edgecolor="none", transform=fig.transFigure))
    ftext(x0 + 2.5, 325.5, "%02d" % (i + 1), family="DejaVu Sans Mono", fontsize=2.2,
          ha="center", va="center")

fig.add_artist(Rectangle((12 / W, -0.01), 223 / W, (H - 338) / H + 0.01, facecolor="white",
                         edgecolor="black", lw=0.8, transform=fig.transFigure))
ftext(16, 344, "Diagramme des ensembles GEFS sur 384h : 40.6N 22.9E",
      family="DejaVu Sans Mono", fontsize=4.3, weight="bold", va="center")
ftext(16, 351.5, "Températures 850hPa et 500hPa (°C) , précipitations (mm)",
      family="DejaVu Sans Mono", fontsize=3.9, va="center")
ftext(240, 340, "Ensemble GEFS du 22/04/2026 - 06Z", **mono)
ftext(240, 351, "Copyright 2026 Meteociel.fr", family="DejaVu Sans Mono", fontsize=4.3,
      weight="bold", va="center")

fig.savefig("out.png", dpi=100)
